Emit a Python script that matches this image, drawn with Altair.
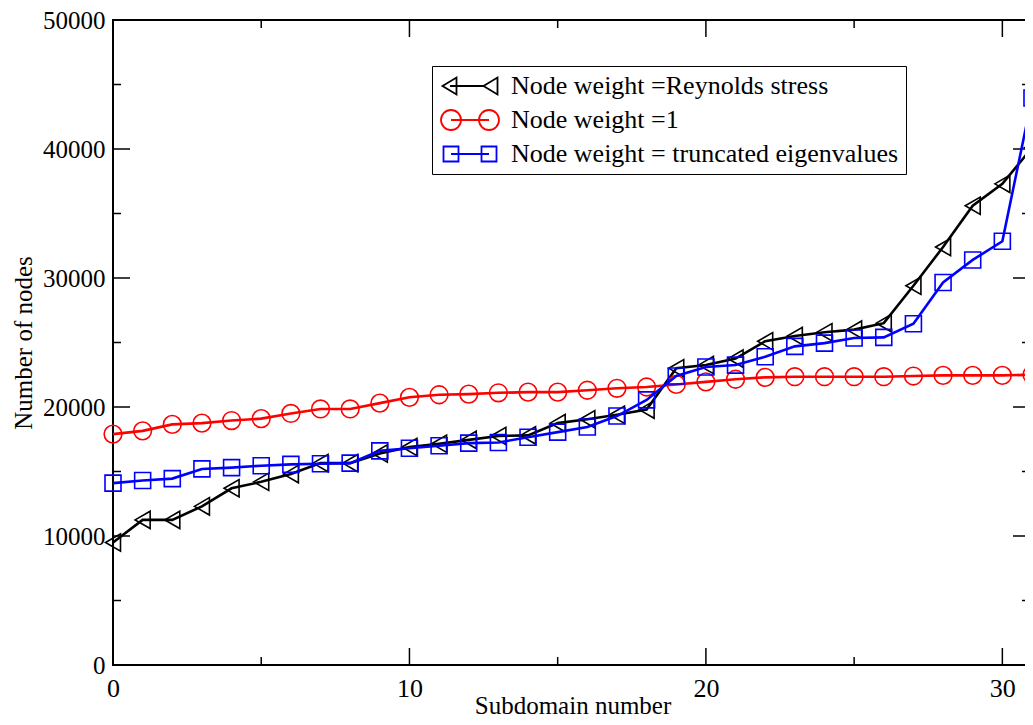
import altair as alt
import pandas as pd

# ---- data ----
subdomain = list(range(32))
reynolds = [9500, 11250, 11250, 12300, 13700, 14200, 14800, 15650, 15650, 16400,
            16900, 17150, 17450, 17750, 17800, 18750, 19050, 19400, 19800, 23000,
            23250, 23750, 25100, 25500, 25800, 26000, 26500, 29400, 32400, 35600,
            37300, 40100]
unit_weight = [17900, 18150, 18650, 18750, 18950, 19100, 19500, 19850, 19850, 20300,
               20750, 20950, 21000, 21100, 21150, 21150, 21300, 21450, 21550, 21750,
               21950, 22150, 22300, 22350, 22350, 22350, 22350, 22400, 22450, 22450,
               22450, 22500]
eigen = [14100, 14300, 14450, 15200, 15300, 15450, 15550, 15600, 15650, 16600,
         16800, 17000, 17200, 17250, 17650, 18050, 18450, 19300, 20550, 22400,
         23100, 23250, 23900, 24700, 24950, 25350, 25400, 26450, 29650, 31400,
         32850, 43950]

series_names = ["Node weight =Reynolds stress", "Node weight =1",
                "Node weight = truncated eigenvalues"]
series_colors = ["#000000", "#ff0000", "#0000ff"]
series_shapes = ["triangle-left", "circle", "square"]
marker_sizes = [300, 314, 256]

x_major = [0, 10, 20, 30]
x_minor = [5, 15, 25]
y_major = [0, 10000, 20000, 30000, 40000, 50000]
y_minor = [5000, 15000, 25000, 35000, 45000]

# legend symbols (unit = 10 px): a line with a marker at each end
legend_paths = [
    "M-2,0L1.5,0M-2.75,0L-1.35,-0.85L-1.35,0.85ZM1.35,0L2.75,-0.85L2.75,0.85Z",
    "M-1.9,0L1.9,0M-0.9,0A1,1 0 1,1 -2.9,0A1,1 0 1,1 -0.9,0"
    "M2.9,0A1,1 0 1,1 0.9,0A1,1 0 1,1 2.9,0",
    "M-1.9,0L1.9,0M-2.65,-0.75L-1.15,-0.75L-1.15,0.75L-2.65,0.75Z"
    "M1.15,-0.75L2.65,-0.75L2.65,0.75L1.15,0.75Z",
]

rows = []
for name, vals in zip(series_names, [reynolds, unit_weight, eigen]):
    for xv, yv in zip(subdomain, vals):
        rows.append({"series": name, "x": xv, "y": yv})
df = pd.DataFrame(rows)

W, H = 919, 645
FONT = "Liberation Serif"

xscale = alt.Scale(domain=[0, 31], nice=False, zero=False)
yscale = alt.Scale(domain=[0, 50000], nice=False)

xaxis = alt.Axis(values=x_major, ticks=False, domain=False, grid=False,
                 labelFont=FONT, labelFontSize=26, labelColor="black",
                 labelPadding=10, labelFlush=False,
                 title="Subdomain number", titleFont=FONT, titleFontSize=25,
                 titleFontWeight="normal", titleColor="black",
                 titleY=48, titleBaseline="alphabetic")
yaxis = alt.Axis(values=y_major, ticks=False, domain=False, grid=False,
                 labelFont=FONT, labelFontSize=25, labelColor="black",
                 labelPadding=8, format="d",
                 title="Number of nodes", titleFont=FONT, titleFontSize=25,
                 titleFontWeight="normal", titleColor="black", titlePadding=6)


def X():
    return alt.X("x:Q", scale=xscale, axis=xaxis)


def Y():
    return alt.Y("y:Q", scale=yscale, axis=yaxis)


layers = []
for name, col, shp, sz in zip(series_names, series_colors, series_shapes, marker_sizes):
    base = alt.Chart(df).transform_filter(alt.datum.series == name)
    line = base.mark_line(color=col, strokeWidth=2.6).encode(x=X(), y=Y())
    pts = base.mark_point(shape=shp, size=sz, color=col, filled=False,
                          strokeWidth=1.6, opacity=1).encode(x=X(), y=Y())
    layers += [line, pts]

legend = alt.Legend(orient="none", legendX=319, legendY=46, title=None,
                    labelFont=FONT, labelFontSize=26, labelColor="black",
                    symbolSize=400, symbolStrokeWidth=1.8, symbolOpacity=1,
                    symbolFillColor="transparent", symbolOffset=18,
                    strokeColor="black", fillColor="white", padding=7,
                    labelOffset=28, rowPadding=7, labelLimit=600)
legend_layer = alt.Chart(df).transform_filter("false").mark_point(
    filled=False).encode(
    x=X(), y=Y(),
    color=alt.Color("series:N", scale=alt.Scale(domain=series_names,
                                                range=series_colors),
                    legend=legend),
    shape=alt.Shape("series:N", scale=alt.Scale(domain=series_names,
                                                range=legend_paths),
                    legend=legend),
)


def xticks(vals, length):
    d = pd.DataFrame({"x": vals})
    bot = alt.Chart(d).mark_rule(color="black", strokeWidth=1.5).encode(
        x=X(), y=alt.value(H), y2=alt.value(H - length))
    top = alt.Chart(d).mark_rule(color="black", strokeWidth=1.5).encode(
        x=X(), y=alt.value(0), y2=alt.value(length))
    return [bot, top]


def yticks(vals, length):
    d = pd.DataFrame({"y": vals})
    left = alt.Chart(d).mark_rule(color="black", strokeWidth=1.5).encode(
        y=Y(), x=alt.value(0), x2=alt.value(length))
    right = alt.Chart(d).mark_rule(color="black", strokeWidth=1.5).encode(
        y=Y(), x=alt.value(W - 2), x2=alt.value(W - 2 - length))
    return [left, right]


tick_layers = xticks(x_major, 17) + xticks(x_minor, 8) + yticks(y_major, 17) + yticks(y_minor, 8)

chart = alt.layer(*tick_layers, *layers, legend_layer).properties(
    width=W, height=H,
    autosize=alt.AutoSizeParams(type="none"),
    padding={"left": 105, "top": 12, "right": -7, "bottom": 52},
).configure(
    background="white",
    view=alt.ViewConfig(stroke="black", strokeWidth=2),
)

chart.save("out.html", embed_options={"renderer": "svg", "actions": False})
